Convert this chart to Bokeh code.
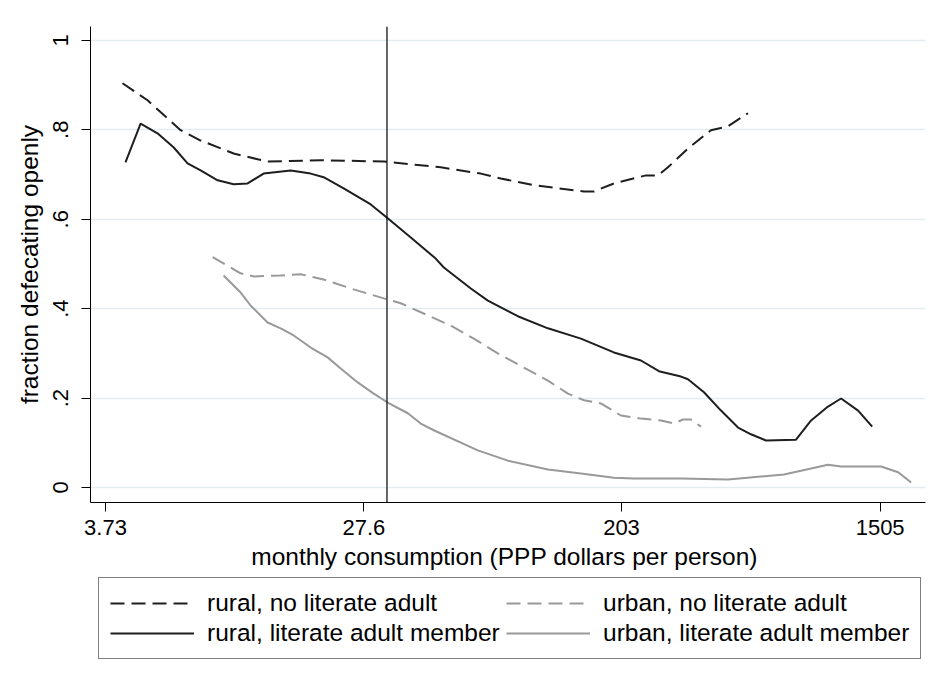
import numpy as np
from bokeh.plotting import figure
from bokeh.layouts import column
from bokeh.models import Span, Legend, LegendItem, FixedTicker, Range1d
from bokeh.embed import file_html
from bokeh.resources import INLINE

# ---------------- data ----------------
x_tick_labels = ["3.73", "27.6", "203", "1505"]          # monthly consumption, PPP $
y_tick_values = [0, 0.2, 0.4, 0.6, 0.8, 1]
y_tick_labels = ["0", ".2", ".4", ".6", ".8", "1"]
reference_line = 33.0                                      # PPP $ per person

# x values are log monthly consumption
rural_nolit_logc = [1.448, 1.642, 1.898, 2.053, 2.309, 2.495, 2.572, 2.983, 3.472, 3.913,
                    4.223, 4.378, 4.634, 5.022, 5.099, 5.254, 5.502, 5.595, 5.673, 5.828,
                    6.006, 6.138, 6.293]
rural_nolit_frac = [0.904, 0.866, 0.799, 0.776, 0.747, 0.734, 0.729, 0.732, 0.729, 0.716,
                    0.702, 0.691, 0.676, 0.662, 0.662, 0.680, 0.698, 0.698, 0.716, 0.758,
                    0.799, 0.808, 0.837]

rural_lit_logc = [1.471, 1.588, 1.719, 1.843, 1.952, 2.053, 2.185, 2.309, 2.417, 2.541,
                  2.751, 2.906, 3.006, 3.161, 3.371, 3.502, 3.681, 3.874, 3.937, 4.146,
                  4.278, 4.510, 4.743, 4.999, 5.254, 5.464, 5.603, 5.774, 5.828, 5.952,
                  6.084, 6.216, 6.316, 6.433, 6.665, 6.782, 6.913, 7.014, 7.146, 7.255]
rural_lit_frac = [0.727, 0.814, 0.792, 0.761, 0.725, 0.709, 0.687, 0.678, 0.680, 0.702,
                  0.709, 0.702, 0.694, 0.669, 0.633, 0.602, 0.559, 0.512, 0.492, 0.445,
                  0.418, 0.383, 0.356, 0.333, 0.302, 0.284, 0.260, 0.248, 0.242, 0.213,
                  0.172, 0.134, 0.119, 0.105, 0.107, 0.150, 0.181, 0.199, 0.172, 0.136]

urban_nolit_logc = [2.146, 2.363, 2.464, 2.673, 2.828, 3.006, 3.239, 3.472, 3.603, 3.813,
                    3.991, 4.169, 4.355, 4.557, 4.743, 4.898, 5.022, 5.154, 5.309, 5.464,
                    5.619, 5.719, 5.789, 5.851, 5.929]
urban_nolit_frac = [0.515, 0.479, 0.472, 0.474, 0.477, 0.465, 0.443, 0.423, 0.412, 0.385,
                    0.362, 0.333, 0.300, 0.268, 0.239, 0.210, 0.195, 0.188, 0.161, 0.154,
                    0.150, 0.143, 0.152, 0.152, 0.136]

urban_lit_logc = [2.231, 2.363, 2.440, 2.572, 2.673, 2.774, 2.906, 3.037, 3.138, 3.270,
                  3.394, 3.502, 3.658, 3.758, 3.859, 4.200, 4.433, 4.743, 4.999, 5.254,
                  5.409, 5.774, 6.138, 6.572, 6.913, 7.014, 7.324, 7.456, 7.557]
urban_lit_frac = [0.474, 0.436, 0.407, 0.369, 0.356, 0.340, 0.313, 0.291, 0.266, 0.235,
                  0.210, 0.190, 0.166, 0.143, 0.128, 0.083, 0.060, 0.040, 0.031, 0.022,
                  0.020, 0.020, 0.018, 0.029, 0.051, 0.047, 0.047, 0.034, 0.011]

series_labels = ["rural, no literate adult", "rural, literate adult member",
                 "urban, no literate adult", "urban, literate adult member"]

# ---------------- main figure ----------------
FONT = "Liberation Sans"
DARK = "#1e1e1e"
GRAY = "#999999"
DASH = "14 7"

series = [(rural_nolit_logc, rural_nolit_frac, DARK, DASH),
          (rural_lit_logc, rural_lit_frac, DARK, "solid"),
          (urban_nolit_logc, urban_nolit_frac, GRAY, DASH),
          (urban_lit_logc, urban_lit_frac, GRAY, "solid")]

p = figure(frame_width=835, frame_height=476, output_backend="svg", toolbar_location=None,
           x_range=Range1d(1.200, 7.668), y_range=Range1d(-0.0336, 1.031),
           min_border_left=90, min_border_right=18, min_border_top=26,
           min_border_bottom=75)
p.outline_line_color = None
p.background_fill_color = "white"
p.border_fill_color = "white"

p.xgrid.visible = False
p.ygrid.grid_line_color = "#e4ecee"
p.ygrid.grid_line_width = 1.5

x_ticks = np.log([float(t) for t in x_tick_labels]).tolist()
p.xaxis.ticker = FixedTicker(ticks=x_ticks)
p.xaxis.major_label_overrides = {t: l for t, l in zip(x_ticks, x_tick_labels)}
p.yaxis.ticker = FixedTicker(ticks=y_tick_values)
p.yaxis.major_label_overrides = {t: l for t, l in zip(y_tick_values, y_tick_labels)}
p.yaxis.major_label_orientation = "vertical"

for ax in (p.xaxis, p.yaxis):
    ax.axis_line_color = "black"
    ax.axis_line_width = 1
    ax.major_tick_line_color = "black"
    ax.major_tick_in = 0
    ax.major_tick_out = 9
    ax.minor_tick_line_color = None
    ax.major_label_text_font = FONT
    ax.major_label_text_font_size = "22px"
    ax.major_label_text_color = "black"
    ax.axis_label_text_font = FONT
    ax.axis_label_text_font_size = "24.5px"
    ax.axis_label_text_font_style = "normal"
    ax.axis_label_text_color = "black"

p.xaxis.axis_label = "monthly consumption  (PPP dollars per person)"
p.yaxis.axis_label = "fraction defecating openly"
p.xaxis.major_label_standoff = 8
p.xaxis.axis_label_standoff = 5
p.yaxis.major_label_standoff = 13
p.yaxis.axis_label_standoff = 8

for xs, ys, col, dash in series:
    p.line(xs, ys, line_color=col, line_width=2, line_dash=dash)

p.add_layout(Span(location=float(np.log(reference_line)), dimension="height",
                  line_color="black", line_width=1.2))

# ---------------- legend strip (same series, drawn outside its view) ----------------
lg = figure(width=943, height=100, output_backend="svg", toolbar_location=None,
            x_axis_location=None, y_axis_location=None,
            x_range=Range1d(-20, -19), y_range=Range1d(-20, -19),
            min_border_left=0, min_border_right=0, min_border_top=0, min_border_bottom=0)
lg.outline_line_color = None
lg.xgrid.visible = False
lg.ygrid.visible = False
lg.border_fill_color = "white"
lg.background_fill_color = "white"

items = []
for lab, (xs, ys, col, dash) in zip(series_labels, series):
    r = lg.line(xs, ys, line_color=col, line_width=2, line_dash=dash)
    items.append(LegendItem(label=lab, renderers=[r]))

legend = Legend(items=items, ncols=2, location=(8, 18),
                glyph_width=84, glyph_height=24, label_height=24, label_width=297,
                label_standoff=13, spacing=2, padding=11, margin=0,
                border_line_color="black", border_line_width=1,
                background_fill_color="white", background_fill_alpha=1,
                label_text_font=FONT, label_text_font_size="24.5px",
                label_text_color="black")
lg.add_layout(legend, "center")

layout = column(p, lg, spacing=0)
open("out.html", "w").write(file_html(layout, INLINE))
